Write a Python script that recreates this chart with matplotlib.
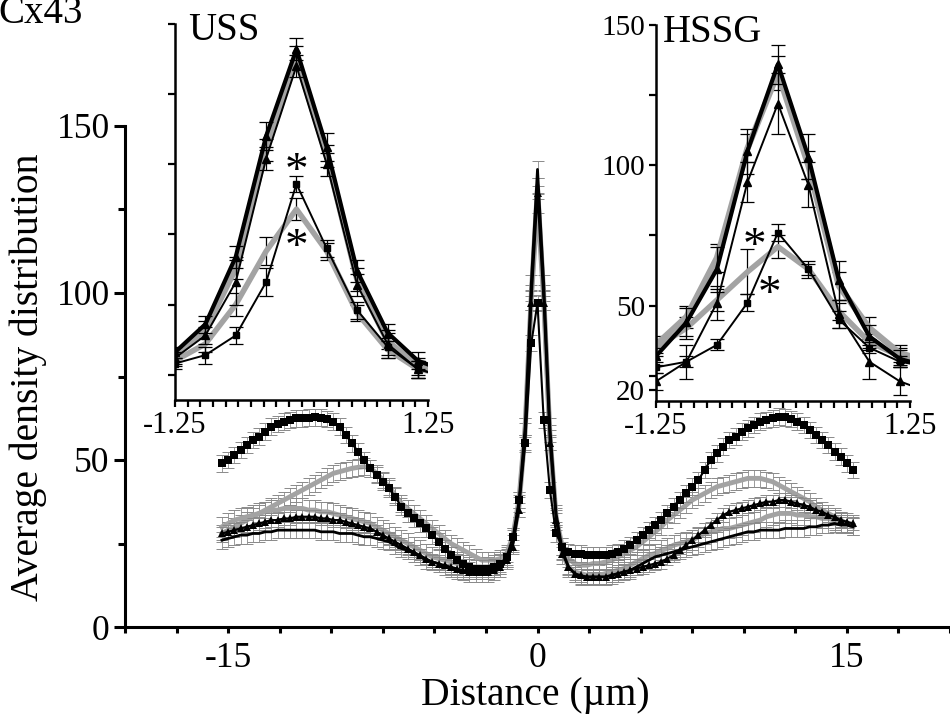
import numpy as np
import matplotlib
matplotlib.use("Agg")
import matplotlib.pyplot as plt
from matplotlib.ticker import MultipleLocator, FixedLocator, NullFormatter

plt.rcParams['font.family'] = ['Liberation Serif', 'DejaVu Serif']
plt.rcParams['axes.unicode_minus'] = False

# ---------------- main panel data ----------------
dist = np.round(np.arange(-51, 52) * 0.3, 2)   # distance grid (µm)

sq_black = [49, 50, 51.5, 53, 54.5, 56, 57, 58.5, 60, 60.8,
            61.5, 62, 62.5, 62.5, 62.7, 62.8, 62.7, 62.3, 61.5, 60,
            57.5, 55, 52.5, 50, 47.5, 45.5, 43.5, 41.5, 39, 36,
            34, 32.5, 31, 29.5, 27.5, 25.5, 23.5, 21.5, 20, 19,
            18, 17.5, 17.5, 17.5, 18, 19, 21, 27, 38, 55,
            85, 97, 62, 41, 28, 24, 22.5, 22, 22, 21.5,
            21.5, 21.5, 21.5, 22, 22.5, 23.5, 24.5, 26, 27.5, 29,
            30.5, 32, 34, 36, 38, 40, 42, 44, 47, 50,
            52, 54, 56, 57, 58.5, 59.5, 60.5, 61.5, 62, 62.5,
            63, 62.8, 62.3, 61.5, 60.5, 59, 57.5, 56, 54.5, 52.5,
            51, 49, 47]
grey_hi = [28, 29, 30, 31, 32, 33, 34, 35, 36, 37,
           38, 39, 40, 41, 42, 43, 44, 45, 46, 46.5,
           47, 47.5, 47.8, 48, 47.5, 46, 44, 42, 39.5, 37,
           35.5, 34, 32.5, 31, 29.5, 28, 26.5, 25, 24, 23,
           22, 21, 20, 20, 20, 20.5, 22, 27, 38, 60,
           100, 132, 100, 58, 33, 24, 20.5, 19, 18.5, 18.5,
           19, 19, 19.5, 20, 21, 22, 23, 24, 25.5, 27,
           28.5, 30, 32, 33.5, 35, 36.5, 38, 39, 40, 41,
           42, 42.5, 43, 43.5, 44, 44.5, 44.5, 44.5, 44, 43.5,
           42.5, 41.5, 40.5, 39.5, 38.5, 37.5, 36, 35, 34, 33,
           32, 31, 30]
tri_black = [28, 28.5, 29, 29.5, 30, 30.5, 31, 31.5, 32, 32,
             32.5, 32.5, 33, 33, 33, 33, 32.5, 32.5, 32, 32,
             31.5, 31, 30.5, 30, 29.5, 28.5, 27.5, 26.5, 25.5, 24.5,
             23.5, 22.5, 21.5, 20.5, 19.5, 19, 18.5, 18, 17.5, 17,
             16.5, 16.5, 16.5, 16.5, 17, 18, 20, 24, 35, 55,
             97, 130, 97, 55, 32, 22, 18, 16, 15.5, 15,
             15, 15, 15, 15.5, 16, 16.5, 17, 17.5, 18, 18.5,
             19, 19.5, 20.5, 21.5, 23, 24.5, 26, 27.5, 29, 30.5,
             32, 33.5, 34.5, 35, 35.5, 36, 36.5, 37, 37.5, 37.5,
             38, 38, 37.5, 37, 36.5, 36, 35, 34.5, 33.5, 33,
             32, 31.5, 31]
grey_lo = [30, 31, 32, 32.5, 33, 33.5, 34, 34.5, 35, 35,
           35.5, 35.5, 35.5, 35.5, 35, 35, 34.5, 34.5, 34, 33.5,
           33, 32.5, 32, 31.5, 31, 30, 29, 28, 27, 26,
           25, 24, 23, 22, 21, 20.5, 20, 19.5, 19, 18.5,
           18, 18, 18, 18, 18.5, 19, 21, 26, 36, 58,
           98, 127, 98, 56, 32, 22, 18, 16.5, 16, 15.5,
           15.5, 15.5, 16, 16.5, 17, 17.5, 18.5, 19.5, 20.5, 21.5,
           22, 23, 23.5, 24.5, 25, 25.5, 26, 27, 28, 28.5,
           29, 29.5, 29.5, 30, 30.5, 31, 31.5, 32, 33, 33.5,
           34, 34, 34, 33.5, 33.5, 33, 33, 32.5, 32.5, 32,
           31.5, 31, 30.5]
line_black = [26, 26.5, 27, 27.5, 27.5, 28, 28, 28.5, 28.5, 29,
              29, 29, 29, 29, 29, 29, 28.5, 28.5, 28.5, 28,
              28, 28, 27.5, 27, 27, 26.5, 26, 25.5, 24.5, 23.5,
              23, 22, 21, 20, 19.5, 19, 18, 17.5, 17, 16.5,
              16, 16, 16, 16, 16.5, 17.5, 20, 25, 37, 60,
              103, 137, 103, 60, 34, 23, 18, 16, 15, 15,
              15, 15, 15, 15.5, 16, 16.5, 17, 18, 19, 20,
              21, 21.5, 22, 22.5, 23, 23.5, 24, 24.5, 25, 25.5,
              26, 26.5, 27, 27.5, 28, 28.5, 28.5, 29, 29, 29,
              29, 29.5, 29.5, 29.5, 29.5, 30, 30, 30.5, 30.5, 31,
              30.5, 30.5, 30]
main_err = {'sq': 2.5, 'ghi': 2.5, 'tri': 2.0, 'glo': 3.0, 'line': 2.5}

# ---------------- inset data ----------------
inset_x = [-1.25, -0.95, -0.65, -0.35, -0.05, 0.25, 0.55, 0.85, 1.15, 1.45]

uss_thick = [33, 43, 67, 110, 141, 106, 62, 40, 30, 26]
uss_grey = [32, 41, 63, 105, 138, 103, 59, 37, 28, 25]
uss_tri = [31, 39, 58, 102, 135, 100, 57, 36, 27, 24]
uss_sq = [29, 32, 39, 58, 93, 70, 48, 35, 27, 24]
uss_grey_lo = [30, 36, 50, 69, 84, 69, 47, 34, 27, 25]
uss_err = {'thick': [2, 3, 4, 5, 4, 5, 4, 3, 3, 3],
           'grey': [2, 3, 4, 4, 4, 4, 4, 3, 3, 3],
           'tri': [2, 3, 8, 4, 4, 4, 4, 5, 3, 3],
           'sq': [2, 3, 3, 5, 3, 3, 3, 3, 3, 3],
           'grey_lo': [2, 3, 4, 5, 4, 3, 3, 3, 3, 3]}

hssg_thick = [32, 44, 63, 105, 136, 103, 59, 39, 31, 28]
hssg_grey = [36, 46, 67, 106, 133, 100, 57, 42, 33, 30]
hssg_tri = [23, 30, 51, 94, 122, 93, 47, 30, 23, 19]
hssg_sq = [28, 30, 36, 51, 76, 63, 45, 35, 30, 28]
hssg_grey_lo = [35, 42, 52, 62, 71, 63, 48, 37, 32, 30]
hssg_err = {'thick': [3, 5, 8, 8, 7, 8, 7, 4, 3, 3],
            'grey': [3, 4, 5, 5, 6, 5, 5, 4, 3, 3],
            'tri': [3, 6, 6, 7, 11, 8, 5, 6, 5, 5],
            'sq': [2, 2, 2, 3, 3, 2, 3, 2, 2, 2],
            'grey_lo': [3, 4, 4, 8, 4, 3, 3, 3, 3, 3]}

uss_stars = [(-0.05, 97), (-0.05, 70)]
hssg_stars = [(-0.28, 70.5), (-0.13, 53.5)]

GREY = '#a3a3a3'
W, H = 950, 716
fig = plt.figure(figsize=(W / 100, H / 100), dpi=100)

# ---------------- main axes ----------------
ax = fig.add_axes([125 / W, 89 / H, 825 / W, 501 / H])
ax.set_xlim(-20, 20)
ax.set_ylim(0, 150)
for s in ['top', 'right']:
    ax.spines[s].set_visible(False)
for s in ['left', 'bottom']:
    ax.spines[s].set_linewidth(2.2)

def main_series(y, color, lw, marker, ms, err, z):
    ax.errorbar(dist, y, yerr=err, fmt='none', ecolor='#8a8a8a', elinewidth=0.6,
                capsize=4, capthick=0.7, zorder=z - 0.5)
    ax.plot(dist, y, color=color, lw=lw, marker=marker, ms=ms,
            markeredgewidth=0, zorder=z, solid_joinstyle='round')

main_series(grey_hi, GREY, 3.5, None, 0, main_err['ghi'], 2)
main_series(grey_lo, GREY, 3.5, None, 0, main_err['glo'], 2.2)
main_series(line_black, 'black', 2.0, None, 0, main_err['line'], 3)
main_series(tri_black, 'black', 1.6, '^', 5.5, main_err['tri'], 3.2)
main_series(sq_black, 'black', 1.5, 's', 6, main_err['sq'], 3.4)

ax.xaxis.set_major_locator(FixedLocator([-15, 0, 15]))
ax.xaxis.set_minor_locator(MultipleLocator(2.5))
ax.yaxis.set_major_locator(FixedLocator([0, 50, 100, 150]))
ax.yaxis.set_minor_locator(FixedLocator([25, 75, 125]))
ax.tick_params(axis='x', which='both', direction='out', length=4, width=2.2,
               labelsize=25.5, pad=7)
ax.tick_params(axis='y', which='major', direction='out', length=8, width=2.2,
               labelsize=25.5, pad=3)
ax.tick_params(axis='y', which='minor', direction='out', length=5, width=2.2)

fig.text(535 / W, 1 - 695 / H, 'Distance (µm)', ha='center', va='center', fontsize=28.5)
fig.text(28 / W, 1 - 377 / H, 'Average density distribution', ha='center', va='center',
         rotation=90, fontsize=28.5)
fig.text(-2 / W, 1 - 23 / H, 'Cx43', ha='left', va='baseline', fontsize=28)

# ---------------- insets ----------------
def make_inset(rect, thick, grey, tri, sq, grey_lo, err, title, stars, ylabels):
    a = fig.add_axes(rect)
    a.patch.set_alpha(0)
    a.set_xlim(-1.25, 1.25)
    a.set_ylim(16, 150)
    for s in ['top', 'right']:
        a.spines[s].set_visible(False)
    for s in ['left', 'bottom']:
        a.spines[s].set_linewidth(1.8)
    ek = dict(fmt='none', ecolor='black', elinewidth=0.9, capsize=5, capthick=0.9)
    a.errorbar(inset_x, grey, yerr=err['grey'], zorder=1.5, **ek)
    a.plot(inset_x, grey, color=GREY, lw=4.5, zorder=2)
    a.errorbar(inset_x, grey_lo, yerr=err['grey_lo'], zorder=1.5, **ek)
    a.plot(inset_x, grey_lo, color=GREY, lw=4.0, zorder=2)
    a.errorbar(inset_x, thick, yerr=err['thick'], zorder=2.5, **ek)
    a.plot(inset_x, thick, color='black', lw=3.0, marker='^', ms=6, zorder=3)
    a.errorbar(inset_x, tri, yerr=err['tri'], zorder=2.5, **ek)
    a.plot(inset_x, tri, color='black', lw=1.4, marker='^', ms=6, zorder=3)
    a.errorbar(inset_x, sq, yerr=err['sq'], zorder=2.5, **ek)
    a.plot(inset_x, sq, color='black', lw=1.4, marker='s', ms=5, zorder=3)
    for (sx, sy) in stars:
        a.text(sx, sy, '*', ha='center', va='center', fontsize=34, zorder=5)
    a.xaxis.set_major_locator(FixedLocator([-1.25, 1.25]))
    a.xaxis.set_minor_locator(MultipleLocator(0.125))
    a.set_xticklabels(['-1.25', '1.25'])
    a.tick_params(axis='x', which='both', direction='out', length=5, width=1.6,
                  labelsize=22, pad=3)
    if ylabels:
        a.yaxis.set_major_locator(FixedLocator([20, 50, 100, 150]))
        a.yaxis.set_minor_locator(FixedLocator([25, 75, 125]))
        a.tick_params(axis='y', which='major', direction='out', length=5, width=1.6,
                      labelsize=21, pad=3)
        a.tick_params(axis='y', which='minor', direction='out', length=5, width=1.6)
    else:
        a.yaxis.set_major_locator(FixedLocator([25, 50, 75, 100, 125, 150]))
        a.yaxis.set_major_formatter(NullFormatter())
        a.tick_params(axis='y', which='major', direction='out', length=5, width=1.6)
    a.text(title[1], title[2], title[0], transform=a.transAxes, ha='left',
           va='baseline', fontsize=28)
    return a

make_inset([175 / W, 316 / H, 253 / W, 376 / H], uss_thick, uss_grey, uss_tri, uss_sq,
           uss_grey_lo, uss_err, ('USS', 0.05, 0.957), uss_stars, False)
make_inset([656 / W, 315 / H, 254 / W, 376 / H], hssg_thick, hssg_grey, hssg_tri, hssg_sq,
           hssg_grey_lo, hssg_err, ('HSSG', 0.028, 0.955), hssg_stars, True)

fig.savefig('out.png', dpi=100)
